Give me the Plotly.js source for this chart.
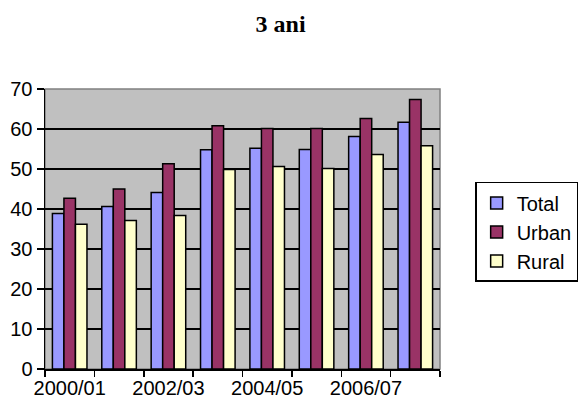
<!DOCTYPE html>
<html>
<head>
<meta charset="utf-8">
<script src="https://cdn.plot.ly/plotly-3.0.1.min.js"></script>
<style>html,body{margin:0;padding:0;background:#fff;}#chart{width:587px;height:401px;}</style>
</head>
<body>
<div id="chart"></div>
<script>
const years = ['2000/01','2001/02','2002/03','2003/04','2004/05','2005/06','2006/07','2007/08'];
const total = [38.9, 40.6, 44.1, 54.8, 55.2, 54.9, 58.1, 61.7];
const urban = [42.7, 45.0, 51.3, 60.8, 60.1, 60.1, 62.6, 67.4];
const rural = [36.2, 37.1, 38.4, 49.9, 50.6, 50.1, 53.6, 55.8];
const seriesNames = ['Total', 'Urban', 'Rural'];
const seriesColors = ['#9999ff', '#993366', '#ffffcc'];
const tickText = years.map((y, i) => (i % 2 === 0 ? y : ''));

const data = [total, urban, rural].map((vals, k) => ({
  type: 'bar',
  x: years,
  y: vals,
  name: seriesNames[k],
  marker: {color: seriesColors[k], line: {color: '#000', width: 1.5}},
  hoverinfo: 'x+y+name'
}));

const layout = {
  width: 587, height: 401,
  margin: {l: 45, r: 147, t: 89, b: 32, autoexpand: false},
  paper_bgcolor: '#ffffff',
  plot_bgcolor: '#c0c0c0',
  font: {family: 'Liberation Sans, Arial, sans-serif', size: 20, color: '#000'},
  title: {
    text: '<b>3 ani</b>',
    font: {family: 'Liberation Serif, Times New Roman, serif', size: 24, color: '#000'},
    x: 0.478, xanchor: 'center', xref: 'container',
    y: 0.94, yanchor: 'middle', yref: 'container'
  },
  barmode: 'group',
  bargap: 0.3,
  bargroupgap: 0,
  xaxis: {
    type: 'category',
    categoryorder: 'array', categoryarray: years,
    tickmode: 'array', tickvals: years, ticktext: tickText,
    tickson: 'boundaries',
    tickangle: 0,
    ticks: 'outside', ticklen: 6, tickwidth: 1.5, tickcolor: '#000',
    showgrid: false, zeroline: false,
    showline: true, linecolor: '#000', linewidth: 1.5,
    tickfont: {size: 20},
    fixedrange: true
  },
  yaxis: {
    range: [0, 70], dtick: 10, tick0: 0,
    ticks: 'outside', ticklen: 7, tickwidth: 1.5, tickcolor: '#000',
    showgrid: true, gridcolor: '#000', gridwidth: 1.5,
    zeroline: false,
    showline: true, linecolor: '#000', linewidth: 1.5,
    tickfont: {size: 20},
    fixedrange: true
  },
  legend: {
    x: 1.089, xanchor: 'left', y: 0.668, yanchor: 'top',
    bgcolor: '#ffffff', bordercolor: '#000', borderwidth: 1.5,
    font: {size: 20},
    tracegroupgap: 0
  },
  shapes: [{
    type: 'rect', xref: 'paper', yref: 'paper', x0: 0, x1: 1, y0: 0, y1: 1,
    line: {color: '#808080', width: 1.5}, layer: 'below'
  }]
};

Plotly.newPlot('chart', data, layout, {displayModeBar: false, staticPlot: true});
</script>
</body>
</html>
